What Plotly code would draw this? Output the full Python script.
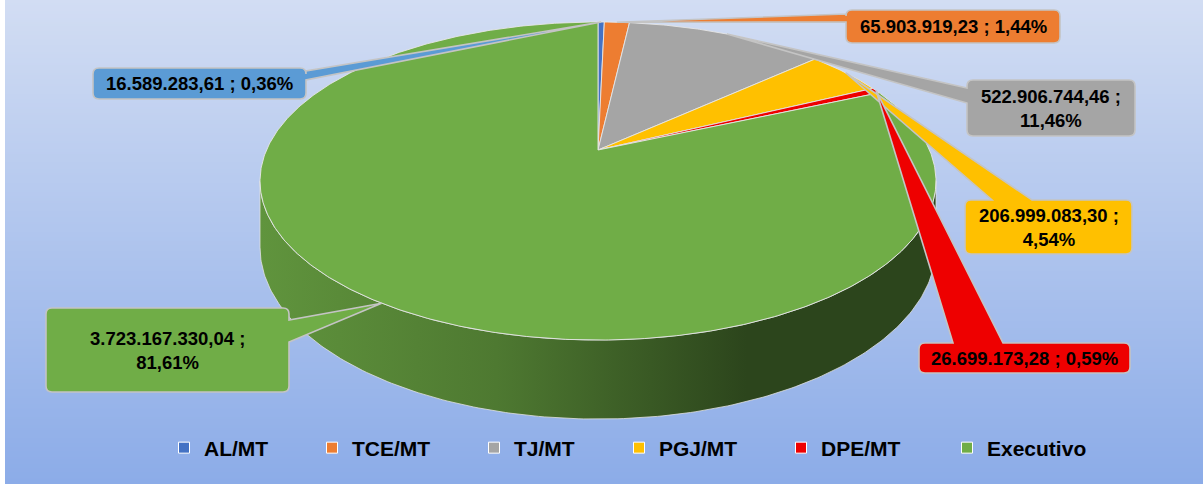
import base64
import math
import struct
import zlib

import numpy as np
import plotly.graph_objects as go

# ---------------- data ----------------
categories = ["AL/MT", "TCE/MT", "TJ/MT", "PGJ/MT", "DPE/MT", "Executivo"]
values = [16589283.61, 65903919.23, 522906744.46, 206999083.30, 26699173.28, 3723167330.04]

# ---------------- style ----------------
slice_colors = ["#4472C4", "#ED7D31", "#A5A5A5", "#FFC000", "#EE0000", "#70AD47"]
box_colors = ["#5B9BD5", "#ED7D31", "#A5A5A5", "#FFC000", "#EE0000", "#70AD47"]
FONT = "Liberation Sans, Arial, sans-serif"
W, H = 1203, 484

# 3-D pie geometry (pixels)
CX, CY = 598.0, 150.0     # apex of the pie
A, B = 331.5, 153.0       # horizontal / vertical radius factors
K = 0.195                 # perspective factor
DEPTH = 63.6              # wall thickness factor

# callout boxes: (x0, y0, x1, y1), side where the pointer attaches, base segment, wrap
callouts = [
    dict(box=(93, 68, 306, 99), side="right", base=(71, 80), wrap=False),
    dict(box=(846, 10, 1060, 43), side="left", base=(14, 22), wrap=False),
    dict(box=(967, 80, 1135, 136), side="left", base=(88, 103), wrap=True),
    dict(box=(965, 200, 1132, 254), side="top", base=(992, 1032), wrap=True),
    dict(box=(919, 343, 1130, 373), side="top", base=(953, 1003), wrap=False),
    dict(box=(46, 308, 289, 392), side="right", base=(320, 342), wrap=True),
]
legend_text_x = [203, 351, 513, 658, 820, 986]
legend_y = 448


def proj(theta_deg, drop=0.0):
    t = np.radians(theta_deg)
    u, v = np.sin(t), np.cos(t)
    w = 1 + K * v
    return CX + A * u / w, CY - B * v / w + drop / w


def fmt_num(v):
    s = f"{v:,.2f}"
    return s.replace(",", "X").replace(".", ",").replace("X", ".")


def fmt_pct(p):
    return f"{p:.2f}".replace(".", ",") + "%"


def shade(hex_color, f):
    h = hex_color.lstrip("#")
    r, g, b = (int(h[i:i + 2], 16) for i in (0, 2, 4))
    return f"rgb({int(r * f)},{int(g * f)},{int(b * f)})"


def png_gradient(top, bottom, n=256):
    raw = b""
    for i in range(n):
        t = i / (n - 1)
        px = bytes(int(round(top[k] + (bottom[k] - top[k]) * t)) for k in range(3))
        raw += b"\x00" + px

    def chunk(tag, data):
        c = struct.pack(">I", len(data)) + tag + data
        return c + struct.pack(">I", zlib.crc32(tag + data) & 0xFFFFFFFF)

    png = b"\x89PNG\r\n\x1a\n"
    png += chunk(b"IHDR", struct.pack(">IIBBBBB", 1, n, 8, 2, 0, 0, 0))
    png += chunk(b"IDAT", zlib.compress(raw, 9))
    png += chunk(b"IEND", b"")
    return "data:image/png;base64," + base64.b64encode(png).decode()


total = float(sum(values))
shares = [v / total for v in values]
ends = np.cumsum(shares) * 360.0
starts = np.concatenate([[0.0], ends[:-1]])

fig = go.Figure()

# side wall (visible front half)
th_r = math.degrees(math.acos(-K))
th_l = 360.0 - th_r
for i, (a0, a1) in enumerate(zip(starts, ends)):
    lo, hi = max(a0, th_r), min(a1, th_l)
    if hi <= lo:
        continue
    ang = np.linspace(lo, hi, 200)
    xt, yt = proj(ang)
    xb, yb = proj(ang[::-1], DEPTH)
    fig.add_trace(go.Scatter(
        x=np.concatenate([xt, xb, xt[:1]]), y=np.concatenate([yt, yb, yt[:1]]),
        mode="lines", fill="toself",
        fillgradient=dict(type="horizontal", colorscale=[
            [0, shade(slice_colors[i], 0.86)], [0.35, shade(slice_colors[i], 0.70)],
            [0.72, shade(slice_colors[i], 0.40)], [1, shade(slice_colors[i], 0.40)]]),
        line=dict(color="rgba(225,225,225,0.8)", width=1),
        hoverinfo="skip", showlegend=False))

# top face slices
for i, (a0, a1) in enumerate(zip(starts, ends)):
    n = max(int((a1 - a0) / 0.5), 2)
    ang = np.linspace(a0, a1, n)
    xa, ya = proj(ang)
    fig.add_trace(go.Scatter(
        x=np.concatenate([[CX], xa, [CX]]), y=np.concatenate([[CY], ya, [CY]]),
        mode="lines", fill="toself", fillcolor=slice_colors[i],
        line=dict(color="rgba(230,230,230,0.9)", width=1),
        name=categories[i], hoverinfo="name", showlegend=False))

# legend entries (one legend each to place them like the original)
for i, cat in enumerate(categories):
    lid = "legend" if i == 0 else f"legend{i + 1}"
    fig.add_trace(go.Scatter(
        x=[None], y=[None], mode="markers", name=cat, legend=lid,
        marker=dict(symbol="square", size=11, color=slice_colors[i],
                    line=dict(color="white", width=1))))
    fig.update_layout({lid: dict(
        x=(legend_text_x[i] - 39) / W, y=1 - legend_y / H, xanchor="left", yanchor="middle",
        orientation="h", bgcolor="rgba(0,0,0,0)", borderwidth=0,
        font=dict(family=FONT, size=21, color="black", weight=700))})

# callouts
shapes = [dict(type="rect", xref="x", yref="y", x0=0, x1=5, y0=0, y1=H,
               fillcolor="white", line=dict(width=0), layer="above")]
annotations = []
R = 6
for i, c in enumerate(callouts):
    x0, y0, x1, y1 = c["box"]
    mid = (starts[i] + ends[i]) / 2
    tx, ty = proj(mid)
    b0, b1 = c["base"]
    p = [f"M{x0 + R},{y0}"]
    if c["side"] == "top":
        p += [f"L{b0},{y0}", f"L{tx:.2f},{ty:.2f}", f"L{b1},{y0}"]
    p += [f"L{x1 - R},{y0}", f"Q{x1},{y0} {x1},{y0 + R}"]
    if c["side"] == "right":
        p += [f"L{x1},{b0}", f"L{tx:.2f},{ty:.2f}", f"L{x1},{b1}"]
    p += [f"L{x1},{y1 - R}", f"Q{x1},{y1} {x1 - R},{y1}",
          f"L{x0 + R},{y1}", f"Q{x0},{y1} {x0},{y1 - R}"]
    if c["side"] == "left":
        p += [f"L{x0},{b1}", f"L{tx:.2f},{ty:.2f}", f"L{x0},{b0}"]
    p += [f"L{x0},{y0 + R}", f"Q{x0},{y0} {x0 + R},{y0}", "Z"]
    shapes.append(dict(type="path", xref="x", yref="y", path=" ".join(p),
                       fillcolor=box_colors[i], line=dict(color="#C4C4C4", width=1.6),
                       layer="above"))
    sep = " ;<br>" if c["wrap"] else " ; "
    annotations.append(dict(
        x=(x0 + x1) / 2, y=(y0 + y1) / 2, xref="x", yref="y", showarrow=False,
        text=fmt_num(values[i]) + sep + fmt_pct(shares[i] * 100),
        font=dict(family=FONT, size=18.5, color="black", weight=700), align="center"))

fig.update_layout(
    width=W, height=H, autosize=False,
    margin=dict(l=0, r=0, t=0, b=0, pad=0),
    paper_bgcolor="#B0C6EE", plot_bgcolor="rgba(0,0,0,0)",
    xaxis=dict(range=[0, W], visible=False, fixedrange=True),
    yaxis=dict(range=[H, 0], visible=False, fixedrange=True),
    images=[dict(source=png_gradient((210, 221, 243), (140, 172, 232)),
                 xref="paper", yref="paper", x=0, y=1, sizex=1, sizey=1,
                 xanchor="left", yanchor="top", sizing="stretch", layer="below")],
    shapes=shapes, annotations=annotations,
    showlegend=True,
)

fig.write_html("out.html", config={"displayModeBar": False},
               post_script="document.body.style.margin='0px';document.body.style.overflow='hidden';")
